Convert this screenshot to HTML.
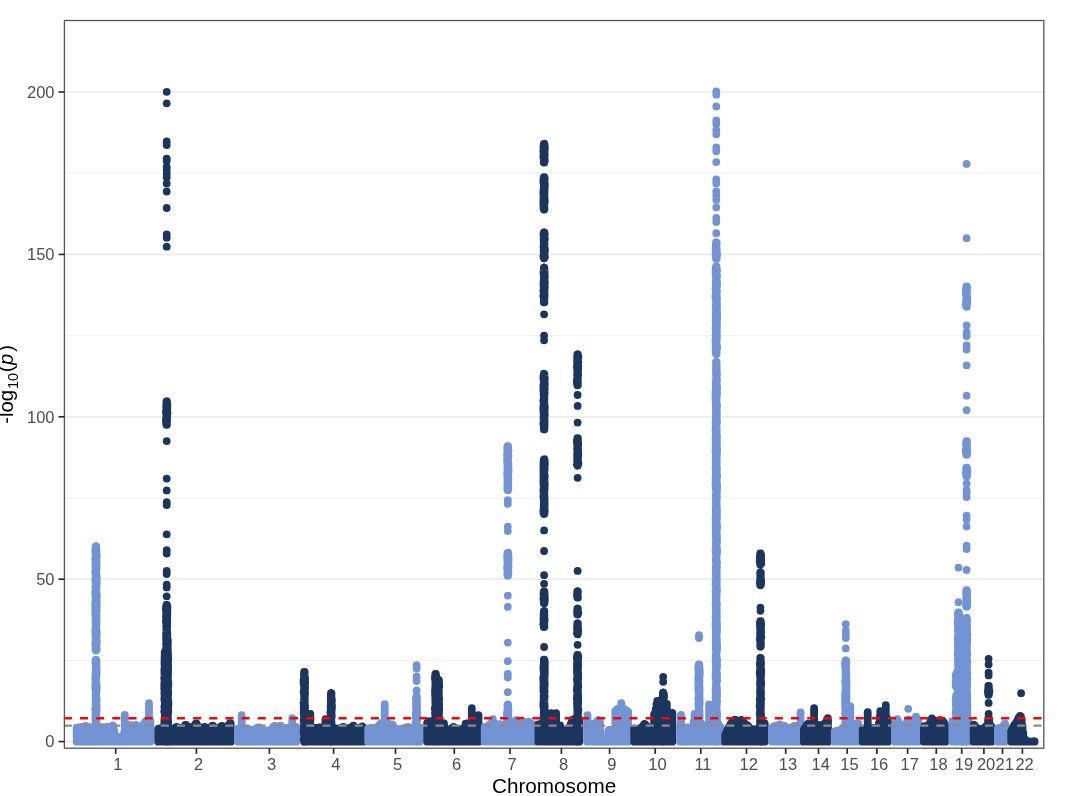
<!DOCTYPE html>
<html><head><meta charset="utf-8"><title>Manhattan plot</title>
<style>
html,body{margin:0;padding:0;background:#fff;}
body{width:1066px;height:796px;overflow:hidden;font-family:"Liberation Sans",sans-serif;}
svg{display:block;will-change:transform;}
text{font-family:"Liberation Sans",sans-serif;}
.tk{font-size:16.5px;fill:#4d4d4d;}
.ti{font-size:20.7px;fill:#000000;}
</style></head>
<body>
<svg width="1066" height="796" viewBox="0 0 1066 796">
<rect x="0" y="0" width="1066" height="796" fill="#ffffff"/>
<line x1="64.4" x2="1043.8" y1="660.4" y2="660.4" stroke="#ebebeb" stroke-width="0.8"/><line x1="64.4" x2="1043.8" y1="498.0" y2="498.0" stroke="#ebebeb" stroke-width="0.8"/><line x1="64.4" x2="1043.8" y1="335.6" y2="335.6" stroke="#ebebeb" stroke-width="0.8"/><line x1="64.4" x2="1043.8" y1="173.2" y2="173.2" stroke="#ebebeb" stroke-width="0.8"/><line x1="64.4" x2="1043.8" y1="741.6" y2="741.6" stroke="#ebebeb" stroke-width="1.7"/><line x1="64.4" x2="1043.8" y1="579.2" y2="579.2" stroke="#ebebeb" stroke-width="1.7"/><line x1="64.4" x2="1043.8" y1="416.8" y2="416.8" stroke="#ebebeb" stroke-width="1.7"/><line x1="64.4" x2="1043.8" y1="254.4" y2="254.4" stroke="#ebebeb" stroke-width="1.7"/><line x1="64.4" x2="1043.8" y1="92.0" y2="92.0" stroke="#ebebeb" stroke-width="1.7"/>
<path d="M76.7 727.7V741.7M77.5 727.6V741.7M78.3 727.4V741.7M79.1 727.3V741.7M79.9 727.3V741.7M80.7 727.2V741.7M81.5 727.2V741.7M82.3 727.2V741.7M83.1 727.2V741.7M83.9 726.9V741.7M84.7 726.2V741.7M85.5 726.0V741.7M86.3 726.4V741.7M87.1 726.7V741.7M87.9 726.9V741.7M88.7 727.0V741.7M89.5 727.1V741.7M90.3 727.2V741.7M91.1 727.4V741.7M91.9 727.4V741.7M92.7 727.4V741.7M93.5 727.4V741.7M94.3 727.4V741.7M95.1 727.4V741.7M95.9 727.2V741.7M96.7 727.2V741.7M97.5 727.1V741.7M98.3 726.9V741.7M99.1 726.9V741.7M99.9 726.9V741.7M100.7 727.0V741.7M101.5 727.1V741.7M102.3 727.2V741.7M103.1 727.5V741.7M103.9 727.7V741.7M104.7 727.6V741.7M105.5 727.3V741.7M106.3 726.9V741.7M107.1 726.9V741.7M107.9 727.0V741.7M108.7 727.1V741.7M109.5 727.1V741.7M110.3 727.4V741.7M111.1 727.0V741.7M111.9 726.2V741.7M112.7 725.5V741.7M113.6 726.2V741.7M114.4 731.4V741.7M115.2 737.3V741.7M116.0 737.2V741.7M116.8 737.1V741.7M117.6 737.1V741.7M118.4 737.2V741.7M119.2 737.2V741.7M120.0 737.3V741.7M120.8 737.6V741.7M121.6 737.8V741.7M122.4 737.7V741.7M123.2 737.4V741.7M124.0 732.9V741.7M124.8 725.2V741.7M125.6 725.2V741.7M126.4 725.2V741.7M127.2 725.2V741.7M128.0 725.2V741.7M128.8 725.3V741.7M129.6 725.3V741.7M130.4 725.3V741.7M131.2 725.4V741.7M132.0 725.5V741.7M132.8 725.4V741.7M133.6 725.3V741.7M134.4 725.2V741.7M135.2 725.1V741.7M136.0 724.9V741.7M136.8 725.3V741.7M137.6 726.6V741.7M138.4 728.1V741.7M139.2 728.4V741.7M140.0 728.3V741.7M140.8 728.1V741.7M141.6 728.0V741.7M142.4 726.7V741.7M143.2 725.3V741.7M144.0 723.8V741.7M144.8 722.3V741.7M145.6 721.5V741.7M146.4 721.4V741.7M147.2 721.3V741.7M148.0 721.3V741.7M148.8 721.4V741.7M149.6 721.2V741.7M150.4 720.9V741.7M124.8 715.0V741.7M149.0 703.2V741.7M96.00 546.4V650.4M95.73 546.4L95.60 548.4L95.28 551.3L95.76 554.2L95.48 556.7L95.23 559.1L95.73 562.0L95.49 564.7L95.46 567.3L95.57 569.2L95.28 571.9L95.60 574.3L95.82 576.7L95.38 578.9L95.50 581.6L95.86 584.6L95.42 587.1L95.70 589.7L95.24 592.4L95.30 594.6L95.61 596.6L95.73 598.4L95.68 601.0L95.29 603.4L95.21 606.0L95.40 608.7L95.30 611.7L95.26 614.6L95.60 616.9L95.71 619.8L95.52 622.2L95.72 624.4L95.74 626.7L95.47 628.9L95.27 631.9L95.63 634.2L95.53 636.3L95.66 639.0L95.52 641.6L95.28 643.9L95.89 645.9L95.54 647.7L95.46 650.0L95.73 650.4M96.27 546.4L96.25 548.3L96.38 551.2L96.34 553.5L96.69 555.6L96.54 558.4L96.35 561.0L96.64 562.9L96.43 565.3L96.48 567.7L96.30 570.2L96.21 573.1L96.51 575.1L96.72 577.9L96.61 580.8L96.79 583.2L96.43 585.2L96.39 587.8L96.25 590.0L96.39 591.9L96.74 594.1L96.80 596.5L96.41 599.0L96.65 600.9L96.73 603.5L96.76 606.0L96.37 607.9L96.73 610.3L96.30 612.5L96.30 614.5L96.61 617.0L96.13 619.2L96.60 621.3L96.38 623.9L96.22 626.1L96.20 628.2L96.51 630.4L96.73 633.0L96.71 635.8L96.15 638.3L96.79 640.9L96.67 642.9L96.60 645.1L96.18 647.5L96.73 649.4L96.27 650.4M96.00 660.0V741.7M95.73 660.0L95.36 662.9L95.80 665.6L95.79 668.1L95.72 670.0L95.83 671.8L95.50 674.0L95.43 676.2L95.33 679.0L95.72 681.1L95.37 683.5L95.32 685.9L95.36 688.7L95.79 691.2L95.73 694.0L95.69 695.8L95.72 698.0L95.69 700.7L95.65 702.9L95.73 704.8L95.83 706.9L95.21 709.2L95.86 711.3L95.55 714.1L95.42 717.1L95.50 719.6L95.77 722.6L95.74 724.7L95.61 727.4L95.86 729.8L95.69 732.8L95.61 734.8L95.87 736.7L95.69 739.3L95.73 741.7M96.27 660.0L96.58 662.0L96.46 664.4L96.23 666.9L96.63 669.1L96.63 671.6L96.63 673.9L96.22 676.8L96.17 679.0L96.18 681.7L96.49 684.3L96.60 686.7L96.69 688.7L96.30 691.7L96.13 694.0L96.22 696.9L96.66 699.5L96.59 701.5L96.12 703.6L96.72 705.9L96.31 708.3L96.62 710.9L96.29 713.6L96.12 715.5L96.14 717.5L96.59 720.1L96.32 722.0L96.60 724.8L96.56 727.8L96.55 729.8L96.64 731.8L96.63 733.6L96.70 736.2L96.51 738.8L96.46 741.2L96.27 741.7" fill="none" stroke="#7294D4" stroke-width="7.8" stroke-linecap="round" stroke-linejoin="round"/>
<g fill="#1C355E" stroke="none"><circle cx="166.7" cy="91.8" r="3.9"/><circle cx="166.7" cy="103.3" r="3.9"/><circle cx="166.7" cy="141.5" r="3.9"/><circle cx="166.7" cy="145.1" r="3.9"/><circle cx="166.7" cy="158.7" r="3.9"/><circle cx="166.7" cy="161.0" r="3.9"/><circle cx="166.7" cy="167.0" r="3.9"/><circle cx="166.7" cy="170.5" r="3.9"/><circle cx="166.7" cy="173.9" r="3.9"/><circle cx="166.7" cy="177.3" r="3.9"/><circle cx="166.7" cy="183.4" r="3.9"/><circle cx="166.7" cy="191.5" r="3.9"/><circle cx="166.7" cy="208.0" r="3.9"/><circle cx="166.7" cy="234.5" r="3.9"/><circle cx="166.7" cy="237.7" r="3.9"/><circle cx="166.7" cy="246.7" r="3.9"/><circle cx="166.7" cy="441.1" r="3.9"/><circle cx="166.7" cy="478.6" r="3.9"/><circle cx="166.7" cy="490.4" r="3.9"/><circle cx="166.7" cy="502.2" r="3.9"/><circle cx="166.7" cy="505.1" r="3.9"/><circle cx="166.7" cy="534.3" r="3.9"/><circle cx="166.7" cy="550.1" r="3.9"/><circle cx="166.7" cy="553.5" r="3.9"/><circle cx="166.7" cy="570.8" r="3.9"/><circle cx="166.7" cy="574.0" r="3.9"/><circle cx="166.7" cy="584.6" r="3.9"/><circle cx="166.7" cy="587.4" r="3.9"/><circle cx="166.7" cy="596.3" r="3.9"/></g>
<path d="M158.2 728.9V741.7M159.0 728.7V741.7M159.8 728.4V741.7M160.6 728.3V741.7M161.4 728.3V741.7M162.2 728.6V741.7M163.0 728.7V741.7M163.8 728.8V741.7M164.6 728.9V741.7M165.4 728.9V741.7M166.2 728.9V741.7M167.0 728.9V741.7M167.8 728.9V741.7M168.6 728.9V741.7M169.4 728.8V741.7M170.2 728.6V741.7M170.9 728.6V741.7M171.7 728.6V741.7M172.5 728.6V741.7M173.3 728.6V741.7M174.1 728.5V741.7M174.9 727.9V741.7M175.7 727.3V741.7M176.5 726.9V741.7M177.3 727.1V741.7M178.1 727.7V741.7M178.9 728.1V741.7M179.7 728.2V741.7M180.5 728.1V741.7M181.3 728.1V741.7M182.1 728.3V741.7M182.9 728.5V741.7M183.7 727.4V741.7M184.5 726.1V741.7M185.3 724.9V741.7M186.1 725.0V741.7M186.9 725.8V741.7M187.7 726.7V741.7M188.5 727.7V741.7M189.3 727.6V741.7M190.1 727.6V741.7M190.9 727.5V741.7M191.7 727.5V741.7M192.5 727.6V741.7M193.3 727.3V741.7M194.1 726.1V741.7M194.8 724.8V741.7M195.6 723.6V741.7M196.4 723.3V741.7M197.2 724.9V741.7M198.0 726.3V741.7M198.8 727.6V741.7M199.6 728.1V741.7M200.4 728.5V741.7M201.2 728.8V741.7M202.0 728.6V741.7M202.8 728.0V741.7M203.6 727.5V741.7M204.4 726.9V741.7M205.2 727.1V741.7M206.0 727.5V741.7M206.8 728.0V741.7M207.6 728.0V741.7M208.4 728.0V741.7M209.2 728.0V741.7M210.0 728.0V741.7M210.8 727.3V741.7M211.6 726.5V741.7M212.4 725.7V741.7M213.2 726.0V741.7M214.0 726.8V741.7M214.8 727.7V741.7M215.6 728.5V741.7M216.4 728.5V741.7M217.2 728.5V741.7M218.0 728.5V741.7M218.7 728.4V741.7M219.5 727.9V741.7M220.3 727.2V741.7M221.1 726.5V741.7M221.9 726.0V741.7M222.7 726.6V741.7M223.5 727.1V741.7M224.3 727.6V741.7M225.1 727.9V741.7M225.9 727.5V741.7M226.7 726.9V741.7M227.5 726.3V741.7M228.3 725.4V741.7M229.1 724.3V741.7M229.9 723.2V741.7M230.7 723.4V741.7M166.70 401.5V424.8M166.43 401.5L166.40 404.2L166.23 407.2L166.32 409.6L165.94 412.4L166.47 414.3L166.33 416.9L165.98 418.9L165.97 421.4L166.16 423.2L166.43 424.8M166.97 401.5L167.35 404.2L167.31 407.1L166.96 409.2L167.17 411.3L167.41 413.5L167.06 415.7L167.00 418.2L167.02 420.4L166.80 423.1L166.97 424.8M166.70 605.0V741.7M166.43 605.0L166.02 607.1L165.94 610.0L166.23 611.9L166.26 614.3L165.96 617.0L166.36 619.6L165.90 621.4L166.41 623.6L166.27 626.0L166.44 628.9L166.29 631.8L166.13 633.6L166.23 636.4L166.05 639.2L166.39 642.1L166.09 644.2L166.51 646.2L166.12 649.0L165.92 651.5L166.23 654.1L166.54 656.0L166.46 658.6L165.96 661.3L166.35 663.8L166.27 666.3L165.97 669.0L166.27 671.2L166.09 673.6L166.37 676.4L166.45 679.1L166.49 681.2L166.23 684.1L166.44 686.2L165.93 688.5L166.40 691.0L166.00 693.8L166.58 696.3L166.48 698.9L166.45 701.7L166.50 703.8L166.23 706.7L166.17 708.5L166.52 711.3L166.03 713.8L166.49 715.7L166.38 718.3L166.20 720.5L166.50 722.8L166.25 725.1L165.95 727.1L166.01 728.9L166.05 731.1L166.51 733.0L166.39 734.9L166.55 737.4L166.39 739.4L166.43 741.7M166.97 605.0L167.48 607.6L167.24 610.1L167.33 612.6L167.27 614.9L167.05 617.6L167.26 620.0L167.07 622.2L167.18 624.6L167.10 627.3L166.85 629.5L167.15 631.8L167.33 633.6L167.26 636.5L167.09 638.5L166.85 641.1L167.13 644.0L167.39 646.1L167.37 648.3L167.32 650.9L167.03 653.3L166.98 655.6L166.99 657.4L166.94 660.1L167.23 662.1L166.82 664.6L166.91 667.0L167.09 668.8L167.16 670.7L167.01 673.2L167.31 675.4L166.80 678.2L167.34 681.0L166.94 682.9L167.08 685.7L167.36 687.8L167.04 690.1L166.83 692.5L167.25 694.9L167.04 697.9L167.00 700.7L167.22 703.5L167.41 705.8L166.92 707.9L167.48 710.3L166.96 712.9L166.94 715.5L167.04 717.5L166.96 720.4L166.81 722.6L167.50 725.3L167.35 727.8L167.16 730.0L167.47 732.5L167.38 735.5L167.13 738.4L167.49 741.2L166.97 741.7M165.00 652.0V741.7M164.73 652.0L164.70 654.8L164.67 657.0L164.54 659.1L164.60 661.1L164.46 664.0L164.79 666.2L164.51 668.4L164.36 670.9L164.51 673.8L164.43 675.9L164.27 678.3L164.64 681.3L164.31 683.5L164.34 686.3L164.29 688.9L164.65 691.1L164.37 693.5L164.68 695.8L164.42 697.7L164.32 699.6L164.88 701.6L164.79 704.4L164.41 706.8L164.88 709.6L164.24 711.4L164.87 713.8L164.80 715.8L164.78 717.9L164.52 720.8L164.24 723.1L164.55 725.2L164.49 727.7L164.80 730.2L164.71 732.8L164.62 735.3L164.60 737.9L164.84 739.8L164.73 741.7M165.27 652.0L165.25 654.5L165.49 657.5L165.64 659.8L165.71 661.9L165.47 664.3L165.16 666.9L165.37 669.6L165.66 672.4L165.29 675.3L165.64 677.9L165.54 680.4L165.18 682.3L165.77 684.3L165.65 686.6L165.67 689.3L165.74 691.4L165.52 693.8L165.19 695.9L165.61 698.4L165.63 701.3L165.56 703.4L165.46 705.3L165.10 708.2L165.13 710.1L165.72 712.4L165.52 714.5L165.36 716.3L165.42 718.4L165.68 720.6L165.63 722.5L165.77 724.4L165.61 727.2L165.10 729.5L165.76 731.5L165.71 733.8L165.29 736.0L165.68 737.8L165.19 739.8L165.27 741.7M167.60 640.0V741.7M167.33 640.0L167.40 642.9L167.24 645.3L167.01 648.2L166.89 650.8L167.37 652.6L167.23 655.6L166.99 658.4L166.98 660.6L167.30 662.9L167.09 665.7L167.02 668.2L166.94 670.9L166.83 673.5L167.40 675.5L166.98 678.0L167.10 680.1L166.97 682.2L167.06 684.2L167.12 686.5L167.10 688.5L167.32 690.9L167.29 693.7L167.05 695.9L166.82 698.3L166.87 701.2L167.24 704.1L167.43 707.1L166.90 709.5L166.84 712.0L166.83 714.7L166.90 717.5L166.87 719.7L167.02 722.4L167.35 725.3L167.28 727.2L167.27 729.3L167.09 731.4L167.43 734.3L167.42 737.2L167.00 739.7L167.33 741.7M167.87 640.0L167.84 642.6L167.72 645.2L167.70 647.3L167.82 650.2L167.87 653.2L168.16 655.5L168.08 657.7L168.18 660.3L167.76 662.8L168.11 665.6L168.12 667.9L168.01 670.4L167.97 672.6L168.06 674.6L167.88 676.5L167.83 678.6L167.97 681.1L168.39 683.1L168.21 685.8L167.81 688.2L167.99 690.6L168.20 692.9L168.01 694.9L167.83 697.5L168.20 700.4L168.38 702.7L168.34 705.5L168.12 708.2L168.18 711.2L168.02 713.9L167.81 716.5L167.72 718.4L168.04 720.6L168.13 723.3L167.80 725.8L168.25 728.3L167.73 730.4L168.23 732.7L168.08 735.2L168.01 737.0L168.27 740.0L167.87 741.7" fill="none" stroke="#1C355E" stroke-width="7.8" stroke-linecap="round" stroke-linejoin="round"/>
<path d="M238.1 728.6V741.7M238.9 728.4V741.7M239.7 728.1V741.7M240.5 727.9V741.7M241.3 728.1V741.7M242.1 728.3V741.7M242.9 728.6V741.7M243.7 728.7V741.7M244.5 728.7V741.7M245.3 728.8V741.7M246.1 728.9V741.7M246.9 729.3V741.7M247.7 729.7V741.7M248.5 729.9V741.7M249.3 729.8V741.7M250.1 729.7V741.7M250.9 729.8V741.7M251.7 730.0V741.7M252.5 730.0V741.7M253.2 729.7V741.7M254.0 729.5V741.7M254.8 729.3V741.7M255.6 729.1V741.7M256.4 728.6V741.7M257.2 727.9V741.7M258.0 727.3V741.7M258.8 727.4V741.7M259.6 728.4V741.7M260.4 729.3V741.7M261.2 729.9V741.7M262.0 730.1V741.7M262.8 730.3V741.7M263.6 730.5V741.7M264.4 730.6V741.7M265.2 730.8V741.7M266.0 730.9V741.7M266.8 730.7V741.7M267.6 730.6V741.7M268.4 730.7V741.7M269.2 731.0V741.7M270.0 730.6V741.7M270.8 730.0V741.7M271.6 729.1V741.7M272.4 728.1V741.7M273.2 727.0V741.7M274.0 726.1V741.7M274.8 726.0V741.7M275.6 726.5V741.7M276.4 726.9V741.7M277.2 727.4V741.7M278.0 727.0V741.7M278.8 726.6V741.7M279.6 726.1V741.7M280.4 725.7V741.7M281.2 726.4V741.7M281.9 727.3V741.7M282.7 728.1V741.7M283.5 728.3V741.7M284.3 728.1V741.7M285.1 727.9V741.7M285.9 727.8V741.7M286.7 727.8V741.7M287.5 727.8V741.7M288.3 727.7V741.7M289.1 727.7V741.7M289.9 727.8V741.7M290.7 727.9V741.7M291.5 727.6V741.7M292.3 727.2V741.7M293.1 727.0V741.7M293.9 727.0V741.7M294.7 726.9V741.7M295.5 726.9V741.7M296.3 726.9V741.7M241.7 715.1V741.7M292.3 718.1V741.7" fill="none" stroke="#7294D4" stroke-width="7.8" stroke-linecap="round" stroke-linejoin="round"/>
<path d="M304.1 726.7V741.7M304.9 726.9V741.7M305.7 727.1V741.7M306.5 727.3V741.7M307.3 727.3V741.7M308.1 727.1V741.7M308.9 727.0V741.7M309.7 727.1V741.7M310.5 727.6V741.7M311.3 728.0V741.7M312.1 728.1V741.7M312.9 728.1V741.7M313.7 728.0V741.7M314.4 727.9V741.7M315.2 727.9V741.7M316.0 727.9V741.7M316.8 728.0V741.7M317.6 727.8V741.7M318.4 727.6V741.7M319.2 727.6V741.7M320.0 727.6V741.7M320.8 727.6V741.7M321.6 727.6V741.7M322.4 727.6V741.7M323.2 727.5V741.7M324.0 727.3V741.7M324.8 727.1V741.7M325.6 726.9V741.7M326.4 726.8V741.7M327.2 726.6V741.7M328.0 726.7V741.7M328.8 726.7V741.7M329.6 726.9V741.7M330.4 727.3V741.7M331.2 727.7V741.7M332.0 727.9V741.7M332.8 727.9V741.7M333.6 727.9V741.7M334.3 727.9V741.7M335.1 728.1V741.7M335.9 728.4V741.7M336.7 728.6V741.7M337.5 728.7V741.7M338.3 728.7V741.7M339.1 728.7V741.7M339.9 728.5V741.7M340.7 728.1V741.7M341.5 727.7V741.7M342.3 727.3V741.7M343.1 726.9V741.7M343.9 727.2V741.7M344.7 727.7V741.7M345.5 728.3V741.7M346.3 728.7V741.7M347.1 728.6V741.7M347.9 728.3V741.7M348.7 728.1V741.7M349.5 728.0V741.7M350.3 728.0V741.7M351.1 727.7V741.7M351.9 727.2V741.7M352.7 726.4V741.7M353.4 725.7V741.7M354.2 726.4V741.7M355.0 727.2V741.7M355.8 727.9V741.7M356.6 728.5V741.7M357.4 728.6V741.7M358.2 728.7V741.7M359.0 728.8V741.7M359.8 728.2V741.7M360.6 727.5V741.7M361.4 726.8V741.7M362.2 726.5V741.7M363.0 727.1V741.7M310.3 713.9V741.7M325.4 719.2V741.7M304.40 672.0V741.7M304.13 672.0L303.90 674.3L304.18 676.8L303.63 679.7L303.62 682.0L303.67 683.9L304.05 686.1L304.28 688.1L303.85 690.6L303.72 693.2L304.27 695.5L304.14 698.1L303.94 700.6L303.61 703.4L303.91 706.1L303.73 708.3L303.84 711.1L303.66 713.3L304.29 715.6L303.94 718.0L303.61 720.4L304.14 723.0L303.98 725.9L303.90 728.1L303.66 730.3L303.67 732.6L304.02 735.2L304.16 737.2L303.67 739.7L304.13 741.7M304.67 672.0L304.57 673.9L304.50 675.7L305.03 678.1L305.05 680.9L305.08 682.9L304.82 685.7L305.12 687.8L304.63 690.2L305.08 692.8L304.84 695.8L304.53 697.7L304.78 699.7L304.76 702.0L304.81 704.2L305.09 706.8L304.91 708.9L304.82 711.8L305.13 714.7L305.11 717.4L305.14 719.2L305.07 721.9L304.63 724.1L305.08 725.9L304.76 728.9L305.01 730.8L304.54 732.7L305.04 735.2L304.71 737.5L305.12 739.6L304.67 741.7M331.20 693.1V741.7M330.93 693.1L330.92 696.0L330.81 698.7L330.98 700.6L330.80 702.8L330.91 704.6L330.60 707.4L330.93 710.0L330.41 712.4L330.91 714.7L331.09 717.4L330.85 719.6L330.48 722.3L330.41 724.8L330.41 727.2L330.95 729.2L331.04 731.3L330.84 733.4L330.62 735.9L330.86 738.7L330.76 741.2L330.93 741.7M331.47 693.1L331.31 695.6L331.50 698.0L331.86 699.8L331.79 701.6L331.48 703.5L331.96 705.6L331.89 707.5L331.84 709.4L331.36 712.3L331.64 714.5L331.71 716.6L331.34 718.5L331.31 720.3L331.49 722.8L331.48 724.7L331.92 727.2L331.66 730.2L331.85 732.9L331.99 734.9L331.72 736.9L331.67 739.4L331.47 741.7" fill="none" stroke="#1C355E" stroke-width="7.8" stroke-linecap="round" stroke-linejoin="round"/>
<g fill="#7294D4" stroke="none"><circle cx="416.6" cy="665.2" r="3.9"/><circle cx="416.6" cy="668.6" r="3.9"/><circle cx="416.6" cy="676.4" r="3.9"/><circle cx="416.6" cy="681.0" r="3.9"/><circle cx="416.6" cy="690.4" r="3.9"/></g>
<path d="M368.2 728.3V741.7M369.0 728.2V741.7M369.8 728.1V741.7M370.6 728.0V741.7M371.4 728.1V741.7M372.2 728.5V741.7M373.0 728.7V741.7M373.8 728.6V741.7M374.6 728.5V741.7M375.4 728.4V741.7M376.2 728.3V741.7M376.9 728.3V741.7M377.7 727.1V741.7M378.5 725.9V741.7M379.3 724.8V741.7M380.1 723.8V741.7M380.9 723.3V741.7M381.7 722.8V741.7M382.5 722.8V741.7M383.3 723.0V741.7M384.1 723.1V741.7M384.9 723.2V741.7M385.7 723.3V741.7M386.5 723.3V741.7M387.3 723.2V741.7M388.1 723.4V741.7M388.9 724.0V741.7M389.7 724.9V741.7M390.5 725.3V741.7M391.3 725.0V741.7M392.1 724.5V741.7M392.9 725.1V741.7M393.7 726.5V741.7M394.4 727.9V741.7M395.2 728.7V741.7M396.0 729.3V741.7M396.8 729.4V741.7M397.6 729.4V741.7M398.4 729.4V741.7M399.2 729.5V741.7M400.0 729.6V741.7M400.8 729.4V741.7M401.6 728.9V741.7M402.4 728.4V741.7M403.2 728.4V741.7M404.0 728.2V741.7M404.8 728.0V741.7M405.6 727.8V741.7M406.4 727.6V741.7M407.2 727.2V741.7M408.0 726.8V741.7M408.8 727.2V741.7M409.6 727.8V741.7M410.4 728.1V741.7M411.2 728.1V741.7M411.9 728.2V741.7M412.7 728.3V741.7M413.5 728.2V741.7M414.3 727.8V741.7M415.1 727.4V741.7M415.9 727.3V741.7M416.7 727.5V741.7M417.5 727.8V741.7M418.3 727.9V741.7M419.1 727.7V741.7M419.9 727.3V741.7M384.7 704.2V741.7M416.60 696.5V741.7M416.33 696.5L415.84 698.3L416.32 700.8L416.02 703.1L416.11 705.5L415.99 708.5L416.49 710.8L415.82 713.7L415.86 716.6L416.20 719.5L415.84 722.2L415.95 724.6L415.85 727.3L416.42 729.5L416.13 732.3L416.13 734.4L416.04 736.5L416.02 739.5L416.33 741.7M416.87 696.5L416.92 699.4L416.85 702.1L416.77 704.7L417.03 707.4L416.73 710.2L417.10 712.0L416.85 714.8L417.28 716.6L417.17 718.7L416.92 721.0L416.72 723.2L416.80 725.5L416.99 728.4L416.89 730.7L417.26 733.6L416.76 736.1L417.18 738.1L417.26 741.0L416.87 741.7" fill="none" stroke="#7294D4" stroke-width="7.8" stroke-linecap="round" stroke-linejoin="round"/>
<path d="M427.2 722.8V741.7M428.0 722.2V741.7M428.8 721.5V741.7M429.6 721.3V741.7M430.4 721.4V741.7M431.2 721.7V741.7M432.0 721.9V741.7M432.8 722.0V741.7M433.6 722.2V741.7M434.4 722.4V741.7M435.2 722.4V741.7M436.0 722.3V741.7M436.8 722.1V741.7M437.6 722.2V741.7M438.4 722.5V741.7M439.2 722.9V741.7M440.0 723.0V741.7M440.8 723.0V741.7M441.6 722.9V741.7M442.4 723.0V741.7M443.2 723.2V741.7M444.0 723.3V741.7M444.8 727.2V741.7M445.6 729.2V741.7M446.4 729.3V741.7M447.2 729.4V741.7M448.0 729.6V741.7M448.8 729.8V741.7M449.6 729.8V741.7M450.4 729.4V741.7M451.2 728.9V741.7M452.0 728.1V741.7M452.8 727.4V741.7M453.6 726.8V741.7M454.4 727.4V741.7M455.2 728.2V741.7M456.0 728.9V741.7M456.8 729.0V741.7M457.6 729.2V741.7M458.4 729.3V741.7M459.2 729.4V741.7M460.0 729.3V741.7M460.8 729.4V741.7M461.6 729.5V741.7M462.4 729.5V741.7M463.2 729.4V741.7M464.0 729.3V741.7M464.8 729.3V741.7M465.6 723.6V741.7M466.4 723.6V741.7M467.2 723.7V741.7M468.0 723.8V741.7M468.8 723.8V741.7M469.6 723.7V741.7M470.4 723.5V741.7M471.2 723.3V741.7M472.0 723.1V741.7M472.8 722.8V741.7M473.6 722.3V741.7M474.4 721.8V741.7M475.2 721.5V741.7M476.0 720.9V741.7M476.8 720.2V741.7M477.6 719.3V741.7M478.4 718.2V741.7M471.8 708.2V741.7M478.5 715.1V741.7M435.60 673.9V741.7M435.33 673.9L435.13 675.9L434.95 678.2L435.38 681.1L435.43 684.0L435.36 686.8L435.21 689.2L435.01 691.0L435.09 693.2L435.10 695.3L435.29 697.7L435.39 700.7L435.39 702.9L435.45 705.8L434.81 708.6L435.38 711.3L434.97 713.2L435.45 715.6L435.10 718.2L434.97 720.5L435.44 723.0L435.06 725.2L435.44 727.8L435.45 729.7L435.29 732.3L435.23 735.1L435.24 737.2L434.97 739.5L435.33 741.7M435.87 673.9L436.17 676.5L436.09 678.9L436.31 681.8L435.99 684.2L435.98 686.9L436.39 689.6L435.84 691.7L435.82 694.4L436.01 697.2L435.86 699.7L436.02 701.7L436.27 703.7L435.75 706.1L436.40 709.0L436.39 711.6L436.28 713.8L436.16 716.5L435.96 718.8L435.88 721.8L436.14 724.3L436.21 727.2L436.17 729.7L436.29 732.6L436.04 735.2L436.06 738.0L435.74 740.3L435.87 741.7M438.60 680.0V741.7M438.33 680.0L437.96 681.8L437.92 684.3L438.45 687.0L437.85 689.8L438.40 691.7L437.94 693.7L437.90 696.2L438.20 699.2L438.26 701.9L438.27 704.2L438.08 706.8L438.13 709.8L438.49 712.0L437.90 714.3L438.28 716.8L438.26 719.6L438.34 721.6L438.06 723.5L438.32 726.3L438.34 729.2L438.44 731.9L438.22 734.1L438.41 736.2L438.11 738.6L438.42 740.5L438.33 741.7M438.87 680.0L439.05 682.9L439.19 684.9L439.17 686.9L438.84 688.8L438.74 691.4L438.77 694.1L438.79 696.2L439.29 699.2L438.80 702.1L439.20 705.0L438.89 706.8L439.23 709.1L439.02 712.1L438.81 714.9L438.91 717.1L439.06 719.4L438.90 721.4L438.78 723.6L439.00 726.3L439.32 729.0L438.92 731.7L439.18 733.9L439.18 736.0L439.23 737.9L439.03 739.7L438.87 741.7" fill="none" stroke="#1C355E" stroke-width="7.8" stroke-linecap="round" stroke-linejoin="round"/>
<g fill="#7294D4" stroke="none"><circle cx="507.8" cy="500.1" r="3.9"/><circle cx="507.8" cy="503.9" r="3.9"/><circle cx="507.8" cy="526.6" r="3.9"/><circle cx="507.8" cy="531.1" r="3.9"/><circle cx="507.8" cy="595.6" r="3.9"/><circle cx="507.8" cy="606.9" r="3.9"/><circle cx="507.8" cy="642.6" r="3.9"/><circle cx="507.8" cy="661.2" r="3.9"/><circle cx="507.8" cy="673.8" r="3.9"/><circle cx="507.8" cy="677.5" r="3.9"/><circle cx="507.8" cy="692.2" r="3.9"/></g>
<path d="M484.7 726.9V741.7M485.5 726.9V741.7M486.3 726.8V741.7M487.1 726.7V741.7M487.9 726.1V741.7M488.7 725.4V741.7M489.5 724.7V741.7M490.3 723.9V741.7M491.2 723.3V741.7M492.0 722.7V741.7M492.8 721.8V741.7M493.6 722.4V741.7M494.4 723.1V741.7M495.2 723.9V741.7M496.0 724.6V741.7M496.8 724.7V741.7M497.6 724.6V741.7M498.4 724.5V741.7M499.2 724.4V741.7M500.0 724.4V741.7M500.8 724.5V741.7M501.6 724.7V741.7M502.4 724.7V741.7M503.3 724.7V741.7M504.1 724.7V741.7M504.9 724.6V741.7M505.7 724.6V741.7M506.5 724.5V741.7M507.3 724.5V741.7M508.1 724.4V741.7M508.9 724.1V741.7M509.7 724.0V741.7M510.5 724.1V741.7M511.3 724.3V741.7M512.1 724.2V741.7M512.9 723.5V741.7M513.7 722.9V741.7M514.5 722.2V741.7M515.3 721.2V741.7M516.2 720.2V741.7M517.0 721.0V741.7M517.8 721.9V741.7M518.6 722.8V741.7M519.4 723.3V741.7M520.2 723.4V741.7M521.0 723.5V741.7M521.8 723.7V741.7M522.6 723.7V741.7M523.4 723.6V741.7M524.2 723.2V741.7M525.0 722.9V741.7M525.8 722.7V741.7M526.6 722.4V741.7M527.4 722.0V741.7M528.3 721.7V741.7M529.1 721.8V741.7M529.9 722.7V741.7M530.7 723.3V741.7M531.5 723.9V741.7M532.3 724.0V741.7M533.1 724.2V741.7M533.9 724.3V741.7M492.8 719.2V741.7M507.80 446.2V490.1M507.53 446.2L507.30 448.5L507.51 451.0L507.30 452.9L507.02 454.8L507.46 456.7L507.35 458.7L507.05 461.2L507.38 463.5L507.60 465.6L507.46 468.2L507.58 470.6L507.16 473.5L507.49 476.4L507.52 479.4L507.56 481.9L507.59 484.3L507.33 487.1L507.55 489.7L507.53 490.1M508.07 446.2L508.11 448.3L508.40 451.2L508.06 453.4L508.41 456.2L507.94 459.2L507.92 461.5L508.46 464.1L508.16 466.6L508.48 469.3L508.49 472.0L507.99 474.5L508.19 476.7L508.40 479.0L508.07 480.9L508.23 483.6L508.04 485.9L508.37 488.0L508.07 490.1M507.80 552.8V575.7M507.53 552.8L507.53 554.9L507.13 556.8L507.37 559.4L507.45 561.5L507.66 563.9L507.37 565.8L507.10 568.2L507.65 570.9L507.31 573.5L507.53 575.7M508.07 552.8L508.37 554.6L508.43 556.9L508.55 559.8L508.33 561.7L508.29 564.3L508.53 566.7L508.10 569.4L508.44 571.4L508.20 574.1L508.07 575.7M507.80 704.7V741.7M507.53 704.7L507.54 707.2L507.60 709.8L507.01 712.7L507.00 714.7L507.10 717.3L507.36 719.5L507.14 721.6L507.13 724.3L507.01 727.1L507.55 729.0L507.63 731.2L507.18 733.5L507.41 735.8L507.50 737.7L507.44 740.4L507.53 741.7M508.07 704.7L508.10 707.5L508.45 709.9L508.25 711.7L508.09 713.8L508.28 716.5L508.48 718.7L507.96 721.1L508.05 723.4L508.13 725.8L508.02 728.4L508.08 730.6L508.06 732.6L508.35 734.4L508.21 737.0L508.06 739.0L508.06 741.2L508.07 741.7" fill="none" stroke="#7294D4" stroke-width="7.8" stroke-linecap="round" stroke-linejoin="round"/>
<g fill="#1C355E" stroke="none"><circle cx="544.1" cy="314.3" r="3.9"/><circle cx="544.1" cy="335.7" r="3.9"/><circle cx="544.1" cy="340.3" r="3.9"/><circle cx="544.1" cy="530.4" r="3.9"/><circle cx="544.1" cy="551.0" r="3.9"/><circle cx="544.1" cy="575.2" r="3.9"/><circle cx="544.1" cy="583.8" r="3.9"/><circle cx="544.1" cy="647.0" r="3.9"/><circle cx="577.6" cy="395.0" r="3.9"/><circle cx="577.6" cy="405.9" r="3.9"/><circle cx="577.6" cy="422.6" r="3.9"/><circle cx="577.6" cy="477.8" r="3.9"/><circle cx="577.6" cy="570.9" r="3.9"/><circle cx="577.6" cy="644.8" r="3.9"/></g>
<path d="M538.4 724.4V741.7M539.2 724.5V741.7M540.0 724.7V741.7M540.8 724.8V741.7M541.6 724.6V741.7M542.4 724.5V741.7M543.2 724.3V741.7M544.0 724.3V741.7M544.8 724.3V741.7M545.6 724.3V741.7M546.4 722.5V741.7M547.2 719.3V741.7M548.0 716.3V741.7M548.9 715.5V741.7M549.7 714.5V741.7M550.5 713.6V741.7M551.3 713.1V741.7M552.1 713.5V741.7M552.9 713.8V741.7M553.7 714.0V741.7M554.5 713.9V741.7M555.3 713.5V741.7M556.1 713.1V741.7M556.9 724.8V741.7M557.7 725.2V741.7M558.5 725.2V741.7M559.3 725.3V741.7M560.1 725.5V741.7M560.9 730.3V741.7M561.7 730.3V741.7M562.5 730.3V741.7M563.3 730.3V741.7M564.1 730.3V741.7M564.9 730.1V741.7M565.7 730.0V741.7M566.5 730.0V741.7M567.3 730.1V741.7M568.1 730.2V741.7M568.9 728.9V741.7M569.8 726.5V741.7M570.6 724.3V741.7M571.4 722.4V741.7M572.2 720.7V741.7M573.0 719.5V741.7M573.8 719.6V741.7M574.6 719.7V741.7M575.4 719.8V741.7M576.2 719.9V741.7M577.0 719.8V741.7M577.8 719.6V741.7M578.6 719.6V741.7M579.4 719.7V741.7M544.10 143.8V162.6M543.83 143.8L543.54 146.8L543.61 149.1L543.37 151.3L543.70 154.1L543.33 156.6L543.89 159.2L543.89 161.4L543.83 162.6M544.37 143.8L544.72 146.2L544.79 148.9L544.41 151.6L544.69 154.0L544.45 156.8L544.57 158.7L544.72 160.7L544.37 162.6M544.10 177.1V209.6M543.83 177.1L543.46 179.6L543.41 182.0L543.76 184.6L543.96 187.3L543.54 190.1L543.31 192.6L543.44 194.5L543.75 196.5L543.41 199.4L543.42 201.9L543.36 204.6L543.61 206.5L543.54 208.4L543.83 209.6M544.37 177.1L544.73 179.1L544.29 181.6L544.75 183.5L544.76 186.3L544.61 189.1L544.46 191.4L544.44 193.7L544.37 196.1L544.57 198.8L544.73 201.7L544.27 204.3L544.34 206.9L544.42 209.4L544.37 209.6M544.10 232.5V258.3M543.83 232.5L543.42 234.4L543.79 236.6L543.69 238.8L543.74 241.7L543.91 244.6L543.51 246.7L543.87 248.5L543.65 250.6L543.88 253.5L543.36 256.0L543.83 258.3M544.37 232.5L544.73 234.5L544.26 236.4L544.83 239.1L544.20 241.8L544.50 243.9L544.31 246.6L544.89 249.0L544.81 251.7L544.26 254.4L544.87 257.0L544.37 258.3M544.10 267.6V302.4M543.83 267.6L543.75 270.2L543.56 273.1L543.88 275.4L543.84 278.0L543.87 280.0L543.60 282.1L543.63 284.1L543.52 286.1L543.95 288.4L543.39 290.5L543.92 293.0L543.31 295.9L543.96 298.2L543.86 300.9L543.83 302.4M544.37 267.6L544.46 270.2L544.68 272.9L544.65 275.1L544.74 277.4L544.41 279.7L544.79 282.1L544.59 285.0L544.79 287.3L544.58 289.3L544.29 291.1L544.47 293.3L544.62 296.0L544.29 298.6L544.22 300.7L544.37 302.4M544.10 373.8V429.4M543.83 373.8L543.47 376.3L543.42 378.3L543.84 380.5L543.97 382.6L543.33 385.5L543.57 388.2L543.45 390.8L543.75 392.9L543.66 395.2L543.87 398.1L543.35 400.6L543.92 403.1L543.55 405.2L543.34 407.9L543.32 410.1L543.72 412.9L543.68 415.5L543.57 418.1L543.81 420.7L543.35 423.6L543.71 425.9L543.97 428.1L543.83 429.4M544.37 373.8L544.46 375.8L544.74 377.9L544.51 380.8L544.67 382.6L544.82 384.4L544.40 386.9L544.69 388.7L544.29 390.8L544.72 393.0L544.28 395.3L544.38 398.0L544.22 399.9L544.31 402.2L544.37 405.0L544.78 407.1L544.58 409.1L544.49 411.2L544.65 413.3L544.70 415.2L544.38 417.6L544.61 420.5L544.50 422.7L544.51 425.7L544.47 428.6L544.37 429.4M544.10 459.3V513.9M543.83 459.3L543.59 461.6L543.52 464.4L543.56 467.2L543.39 469.5L543.59 472.3L543.57 475.2L543.60 477.1L543.52 480.1L543.38 482.5L543.60 484.9L543.84 487.9L543.34 489.9L543.70 492.4L543.53 494.8L543.48 497.5L543.81 499.7L543.85 502.4L543.73 505.4L543.79 508.2L543.36 510.7L543.66 513.6L543.83 513.9M544.37 459.3L544.82 462.0L544.81 464.6L544.37 467.5L544.62 469.5L544.21 471.5L544.25 473.4L544.72 475.9L544.54 478.2L544.26 480.1L544.59 482.4L544.77 484.2L544.55 487.2L544.59 489.1L544.35 491.0L544.32 493.6L544.36 496.3L544.63 499.2L544.40 501.2L544.70 503.9L544.52 506.5L544.40 509.0L544.80 510.9L544.33 513.3L544.37 513.9M544.10 591.3V603.3M543.83 591.3L543.53 594.2L543.94 596.6L543.38 598.8L543.97 601.6L543.83 603.3M544.37 591.3L544.59 594.2L544.71 596.3L544.75 599.0L544.80 601.0L544.37 603.3M544.10 611.2V627.0M543.83 611.2L543.66 614.0L543.70 616.9L543.46 619.8L543.68 622.0L543.30 624.6L543.99 627.0L543.83 627.0M544.37 611.2L544.24 613.4L544.38 616.0L544.40 618.6L544.65 620.4L544.22 622.8L544.26 625.5L544.37 627.0M544.10 659.6V741.7M543.83 659.6L543.87 661.9L543.89 664.1L543.44 666.6L543.48 669.2L543.76 672.0L543.82 674.8L543.30 677.5L543.33 679.5L543.53 682.0L543.72 683.9L543.36 686.8L543.52 689.2L543.43 691.2L544.00 694.0L543.56 696.3L543.83 699.2L543.50 702.0L543.40 704.2L543.34 706.3L543.85 709.1L543.95 711.3L543.71 714.0L543.74 716.8L543.59 719.2L543.36 721.5L543.50 724.0L543.95 726.0L543.45 728.7L543.85 730.9L543.96 733.2L543.87 735.8L543.52 737.9L543.88 740.5L543.83 741.7M544.37 659.6L544.82 661.9L544.71 664.2L544.68 666.7L544.70 669.0L544.78 670.8L544.70 673.6L544.63 676.4L544.36 679.2L544.41 681.3L544.71 683.5L544.57 686.4L544.28 689.0L544.63 691.7L544.21 694.3L544.66 696.4L544.27 699.4L544.36 701.7L544.55 704.3L544.60 706.4L544.61 709.1L544.86 711.5L544.23 714.2L544.89 716.7L544.45 718.6L544.21 720.7L544.34 722.8L544.58 725.7L544.63 728.1L544.63 730.2L544.72 732.6L544.63 735.0L544.90 737.1L544.35 740.0L544.37 741.7M577.60 354.5V385.3M577.33 354.5L577.25 356.8L577.15 358.8L577.08 360.7L577.32 363.7L576.96 366.1L577.00 368.0L577.39 370.0L577.30 372.3L577.19 374.9L577.40 377.8L576.84 380.1L576.91 382.7L577.19 384.6L577.33 385.3M577.87 354.5L578.38 356.9L577.78 359.8L578.24 362.5L577.83 364.4L578.28 366.7L578.05 368.6L577.93 370.5L577.94 373.3L578.12 375.3L577.70 377.3L577.77 379.5L577.76 382.0L577.89 383.9L577.87 385.3M577.60 438.2V465.6M577.33 438.2L576.96 440.4L577.05 443.1L577.49 445.8L577.13 448.4L577.48 450.6L577.23 453.2L577.20 456.2L577.17 458.5L577.24 460.5L577.44 462.7L576.89 464.7L577.33 465.6M577.87 438.2L577.94 440.2L578.01 442.5L578.19 445.0L577.72 447.2L577.88 449.0L578.25 451.6L578.14 453.5L578.27 455.6L577.80 458.6L577.98 461.0L578.39 463.6L577.87 465.6M577.60 591.3V597.6M577.33 591.3L577.22 593.6L577.03 595.9L577.33 597.6M577.87 591.3L577.72 593.9L577.71 596.4L577.87 597.6M577.60 608.7V614.6M577.33 608.7L577.09 611.7L577.46 614.2L577.33 614.6M577.87 608.7L577.72 610.8L578.30 613.2L577.87 614.6M577.60 623.4V634.3M577.33 623.4L577.12 626.2L577.10 628.2L577.45 630.7L576.93 633.3L577.33 634.3M577.87 623.4L577.79 626.1L577.93 628.5L578.15 630.4L577.98 632.4L577.87 634.3M577.60 654.9V741.7M577.33 654.9L576.88 657.1L576.90 659.0L577.46 660.8L576.94 663.6L577.08 665.7L577.00 668.3L577.01 670.8L577.11 672.8L577.16 674.7L577.47 677.0L576.90 679.2L577.31 682.1L577.46 685.0L577.14 687.5L576.85 690.0L577.32 692.3L577.31 694.6L576.88 697.3L576.97 699.4L577.23 701.9L576.95 703.9L577.28 705.9L577.30 708.8L577.38 711.5L577.41 714.2L576.92 717.0L576.91 719.9L577.04 721.8L577.29 724.2L577.48 727.1L577.37 729.4L577.06 731.7L577.42 734.5L577.10 737.0L576.93 739.9L577.33 741.7M577.87 654.9L578.32 656.9L578.02 659.3L577.95 662.1L578.17 664.5L577.91 666.8L577.97 669.1L577.89 671.6L578.15 673.8L578.16 675.8L578.17 678.0L577.82 680.7L578.04 683.6L578.09 685.5L578.16 687.3L577.70 689.5L577.93 691.6L577.88 693.7L578.15 696.2L578.03 698.7L578.18 700.9L578.21 703.0L577.76 705.5L577.89 707.6L578.38 709.9L578.14 712.1L577.85 714.9L578.14 717.0L577.73 719.5L577.75 722.3L577.82 725.0L578.25 727.1L578.03 729.0L577.76 730.9L577.76 733.9L578.23 736.4L578.27 738.4L578.36 741.2L577.87 741.7" fill="none" stroke="#1C355E" stroke-width="7.8" stroke-linecap="round" stroke-linejoin="round"/>
<path d="M587.2 721.9V741.7M588.0 722.6V741.7M588.8 723.3V741.7M589.6 724.0V741.7M590.4 724.3V741.7M591.2 724.2V741.7M592.0 724.2V741.7M592.8 724.0V741.7M593.6 724.0V741.7M594.4 723.9V741.7M595.2 723.8V741.7M596.0 722.9V741.7M596.8 721.7V741.7M597.6 720.6V741.7M598.4 719.8V741.7M599.2 721.0V741.7M600.0 722.3V741.7M600.8 738.9V741.7M601.6 739.2V741.7M602.4 739.3V741.7M603.2 739.0V741.7M604.0 738.7V741.7M604.8 738.5V741.7M605.6 738.7V741.7M606.4 738.9V741.7M607.2 739.0V741.7M608.1 731.4V741.7M608.9 729.8V741.7M609.7 729.8V741.7M610.5 729.9V741.7M611.3 730.2V741.7M612.1 730.3V741.7M612.9 730.2V741.7M613.7 729.8V741.7M614.5 729.5V741.7M615.3 711.0V741.7M616.1 710.3V741.7M616.9 709.6V741.7M617.7 708.9V741.7M618.5 708.7V741.7M619.3 708.8V741.7M620.1 708.8V741.7M620.9 708.7V741.7M621.7 708.5V741.7M622.5 708.4V741.7M623.3 708.6V741.7M624.1 708.8V741.7M624.9 709.4V741.7M625.7 710.1V741.7M626.5 710.8V741.7M627.3 711.4V741.7M628.1 711.7V741.7M587.5 715.1V741.7M621.3 703.1V741.7" fill="none" stroke="#7294D4" stroke-width="7.8" stroke-linecap="round" stroke-linejoin="round"/>
<g fill="#1C355E" stroke="none"><circle cx="663.2" cy="676.8" r="3.9"/><circle cx="663.2" cy="681.8" r="3.9"/></g>
<path d="M634.2 728.7V741.7M635.0 728.8V741.7M635.8 728.9V741.7M636.6 728.9V741.7M637.4 728.9V741.7M638.2 728.9V741.7M639.0 728.8V741.7M639.8 728.8V741.7M640.6 728.3V741.7M641.4 727.6V741.7M642.2 726.9V741.7M643.0 725.9V741.7M643.8 724.9V741.7M644.5 724.0V741.7M645.3 724.4V741.7M646.1 725.4V741.7M646.9 726.5V741.7M647.7 727.5V741.7M648.5 727.9V741.7M649.3 728.2V741.7M650.1 728.1V741.7M650.9 727.9V741.7M651.7 727.8V741.7M652.5 727.9V741.7M653.3 728.0V741.7M654.1 714.1V741.7M654.9 714.0V741.7M655.7 709.4V741.7M656.5 704.1V741.7M657.3 700.8V741.7M658.1 700.9V741.7M658.9 701.0V741.7M659.7 701.2V741.7M660.5 701.8V741.7M661.3 702.3V741.7M662.1 702.6V741.7M662.9 703.0V741.7M663.6 703.3V741.7M664.4 703.6V741.7M665.2 703.6V741.7M666.0 703.6V741.7M666.8 703.8V741.7M667.6 717.8V741.7M668.4 716.9V741.7M669.2 716.0V741.7M670.0 714.9V741.7M670.8 714.2V741.7M671.6 713.5V741.7M672.4 712.9V741.7M663.20 692.7V741.7M662.93 692.7L662.86 695.6L662.60 698.5L662.88 701.1L663.04 703.8L662.87 706.4L662.56 708.8L662.42 711.5L662.41 713.5L662.93 715.7L662.54 718.0L662.96 720.5L662.86 722.4L662.64 724.5L662.58 726.9L662.74 729.6L662.69 731.7L663.04 733.8L662.74 736.2L662.87 738.5L662.74 741.1L662.93 741.7M663.47 692.7L663.99 694.7L663.99 697.2L663.55 699.4L663.63 701.6L664.00 704.0L663.50 706.2L663.66 708.5L663.44 710.4L663.94 712.5L663.79 715.0L663.32 717.7L663.76 720.5L663.80 722.8L663.83 725.4L663.48 727.6L663.63 729.7L663.68 732.0L663.36 734.2L663.42 736.7L663.52 739.6L663.47 741.7" fill="none" stroke="#1C355E" stroke-width="7.8" stroke-linecap="round" stroke-linejoin="round"/>
<g fill="#7294D4" stroke="none"><circle cx="699.0" cy="635.2" r="3.9"/><circle cx="699.0" cy="638.1" r="3.9"/><circle cx="716.3" cy="91.3" r="3.9"/><circle cx="716.3" cy="94.7" r="3.9"/><circle cx="716.3" cy="106.5" r="3.9"/><circle cx="716.3" cy="120.3" r="3.9"/><circle cx="716.3" cy="124.1" r="3.9"/><circle cx="716.3" cy="130.2" r="3.9"/><circle cx="716.3" cy="134.3" r="3.9"/><circle cx="716.3" cy="147.4" r="3.9"/><circle cx="716.3" cy="151.3" r="3.9"/><circle cx="716.3" cy="162.1" r="3.9"/><circle cx="716.3" cy="179.5" r="3.9"/><circle cx="716.3" cy="183.4" r="3.9"/><circle cx="716.3" cy="191.5" r="3.9"/><circle cx="716.3" cy="195.4" r="3.9"/><circle cx="716.3" cy="199.9" r="3.9"/><circle cx="716.3" cy="207.4" r="3.9"/><circle cx="716.3" cy="218.0" r="3.9"/><circle cx="716.3" cy="222.0" r="3.9"/><circle cx="716.3" cy="233.2" r="3.9"/></g>
<path d="M680.2 725.5V741.7M681.0 725.9V741.7M681.8 726.4V741.7M682.6 727.0V741.7M683.4 727.5V741.7M684.2 728.1V741.7M685.0 728.3V741.7M685.8 728.1V741.7M686.6 727.8V741.7M687.4 727.5V741.7M688.2 727.5V741.7M689.0 727.6V741.7M689.8 727.6V741.7M690.6 727.6V741.7M691.4 727.8V741.7M692.2 727.9V741.7M693.0 727.9V741.7M693.8 721.6V741.7M694.6 713.8V741.7M695.4 714.2V741.7M696.2 715.5V741.7M697.0 717.0V741.7M697.8 718.4V741.7M698.6 719.7V741.7M699.4 720.9V741.7M700.2 722.1V741.7M701.1 723.5V741.7M701.9 724.8V741.7M702.7 726.2V741.7M703.5 726.2V741.7M704.3 725.9V741.7M705.1 725.7V741.7M705.9 725.9V741.7M706.7 726.3V741.7M707.5 726.7V741.7M708.3 726.7V741.7M709.1 704.5V741.7M709.9 705.1V741.7M710.7 706.0V741.7M711.5 707.2V741.7M712.3 708.8V741.7M713.1 710.9V741.7M713.9 713.0V741.7M714.7 715.0V741.7M715.5 717.0V741.7M716.3 719.0V741.7M717.1 720.9V741.7M717.9 722.9V741.7M718.7 724.9V741.7M719.5 726.1V741.7M720.3 726.9V741.7M721.1 728.0V741.7M681.0 714.8V741.7M699.05 664.4V741.7M698.78 664.4L698.27 666.8L698.36 668.7L698.51 671.7L698.84 674.3L698.39 676.6L698.35 679.4L698.42 682.3L698.32 685.1L698.45 687.4L698.41 690.3L698.95 692.7L698.67 694.9L698.73 696.9L698.25 698.8L698.68 700.8L698.53 702.7L698.39 704.7L698.77 706.7L698.95 708.9L698.60 711.4L698.65 714.0L698.61 716.3L698.92 718.7L698.43 721.1L698.44 723.8L698.72 725.8L698.85 728.1L698.29 730.7L698.74 733.4L698.82 735.8L698.33 738.8L698.48 741.2L698.78 741.7M699.32 664.4L699.37 667.2L699.60 669.7L699.70 671.5L699.82 674.3L699.50 676.4L699.17 678.9L699.47 681.0L699.33 683.1L699.34 685.6L699.68 688.3L699.45 690.3L699.58 692.7L699.39 694.7L699.47 696.6L699.59 699.6L699.67 701.8L699.53 704.6L699.34 707.0L699.23 708.9L699.67 710.8L699.30 713.4L699.81 715.9L699.50 717.8L699.46 720.2L699.71 722.5L699.27 725.2L699.35 727.8L699.17 729.7L699.56 732.3L699.50 734.9L699.83 736.9L699.61 739.4L699.32 741.7M716.30 242.4V258.8M716.03 242.4L715.94 244.2L715.73 246.2L715.68 248.6L716.06 250.5L715.72 253.3L715.62 255.7L715.71 257.6L716.03 258.8M716.57 242.4L716.59 244.6L716.49 247.1L716.61 249.0L716.71 251.1L716.86 252.9L717.06 255.6L716.54 257.6L716.57 258.8M716.30 266.4V354.0M716.03 266.4L715.60 268.7L715.67 271.0L715.73 273.9L715.93 276.8L716.20 279.0L715.76 281.5L716.09 284.2L715.77 287.1L715.56 289.4L715.80 291.5L715.98 293.7L715.50 295.7L715.54 298.1L716.11 300.4L716.17 302.9L715.68 305.4L715.87 307.7L716.20 309.8L715.95 311.9L716.05 314.0L715.77 316.4L715.82 319.2L715.60 321.0L716.08 323.5L715.88 326.0L715.62 328.7L715.94 331.1L715.89 333.3L715.65 335.2L716.17 337.5L715.50 340.3L715.59 342.9L716.16 345.1L715.65 347.2L715.89 350.2L715.63 352.3L716.03 354.0M716.57 266.4L716.49 268.5L717.01 270.5L716.58 273.4L717.02 275.9L716.44 278.8L716.92 281.7L717.04 284.4L716.82 287.0L716.40 288.8L716.98 290.9L716.44 293.7L716.77 296.4L717.01 298.4L716.83 300.7L716.52 302.8L716.99 305.1L716.65 307.4L716.98 309.2L716.68 311.8L717.07 313.8L717.05 315.9L717.09 318.8L716.88 320.7L716.85 323.1L716.84 325.1L717.02 327.1L716.54 329.2L716.84 331.4L716.71 334.0L716.99 336.5L716.48 339.4L716.70 341.3L716.44 343.7L717.04 346.1L717.09 348.3L716.50 350.2L716.51 352.7L716.57 354.0M716.30 361.8V741.7M716.03 361.8L715.98 363.7L716.18 366.7L715.92 368.6L716.05 371.1L716.08 374.1L716.18 376.1L716.13 378.8L715.97 380.6L715.71 382.9L715.87 385.9L716.18 388.3L715.65 390.3L715.66 392.3L715.50 394.8L715.60 397.2L715.53 399.9L715.82 402.1L715.98 404.4L715.90 407.3L715.88 409.7L715.95 411.5L716.13 414.0L715.91 416.0L715.81 418.8L715.74 421.0L715.71 423.8L715.72 426.4L715.67 428.8L715.54 430.8L716.07 432.9L715.78 435.8L715.59 438.4L715.69 441.3L716.17 443.2L715.54 446.0L716.17 447.9L715.51 450.0L715.72 452.8L716.02 454.8L715.92 457.2L715.70 459.5L715.78 462.5L716.08 464.9L715.59 467.7L715.86 470.5L715.94 473.0L715.96 475.3L715.57 477.8L716.00 480.3L715.57 483.1L715.67 485.8L715.68 487.7L716.18 490.2L716.17 492.6L715.86 495.1L716.09 497.7L715.78 500.3L716.08 502.9L716.09 505.6L715.80 507.5L715.77 510.2L715.81 512.2L716.04 514.8L715.63 516.8L715.61 518.9L715.84 521.5L715.69 524.4L715.85 526.6L715.75 529.2L715.87 531.0L716.16 533.3L715.86 535.4L716.06 538.1L716.07 541.1L715.73 543.5L716.07 545.7L716.03 548.1L715.58 550.8L715.93 553.2L716.15 555.0L716.01 557.3L715.90 559.3L715.96 561.7L716.16 564.5L715.83 566.7L716.11 569.4L715.75 571.5L715.90 573.6L716.02 575.8L716.18 578.0L715.74 579.9L715.76 582.1L715.54 584.4L716.12 586.4L716.10 588.9L715.64 590.9L715.93 593.0L715.72 594.8L715.89 597.7L716.08 600.5L715.83 602.4L715.60 604.8L716.00 606.9L715.83 609.8L716.10 611.8L715.92 614.2L715.58 616.4L715.74 618.9L716.00 620.7L715.58 623.5L715.62 625.7L715.76 628.2L716.15 630.1L715.89 632.8L715.94 635.1L716.02 637.4L715.67 640.0L716.08 642.5L715.80 644.6L716.09 646.5L715.78 648.6L716.18 650.9L716.11 653.1L715.73 655.4L715.80 657.7L716.00 659.6L715.67 662.1L716.16 665.0L715.80 667.7L716.02 670.2L715.77 672.2L715.71 674.6L715.56 677.4L716.17 679.9L716.09 682.5L716.03 684.4L716.03 686.4L715.66 688.8L715.62 691.4L716.02 694.1L715.60 696.1L715.77 698.9L715.88 701.1L716.17 703.0L716.13 705.2L716.12 707.0L715.89 709.5L716.19 711.6L715.63 714.2L715.84 716.3L715.88 718.5L715.58 721.1L715.80 723.0L716.07 725.0L715.72 727.6L715.52 730.3L716.04 732.4L715.67 735.2L715.98 738.2L716.17 741.1L716.03 741.7M716.57 361.8L716.57 363.8L716.71 366.7L716.75 369.2L716.59 371.7L716.99 374.7L716.58 377.2L716.99 379.6L716.47 382.5L716.74 384.5L717.05 387.4L716.92 390.3L716.81 392.3L717.00 394.3L716.64 396.8L716.58 398.7L716.47 400.8L716.45 402.7L717.07 405.4L716.74 407.8L716.58 409.8L716.82 412.6L716.86 415.0L716.70 417.7L716.91 420.5L716.89 423.0L716.40 425.3L716.52 427.8L716.77 430.8L716.50 432.8L716.68 434.8L716.95 437.0L716.71 439.2L716.90 441.4L716.75 443.4L716.91 446.2L716.98 449.0L717.04 451.9L716.75 453.9L716.72 456.8L716.42 459.5L716.91 462.0L716.44 464.2L716.79 467.2L716.94 469.4L716.58 472.4L716.99 474.3L717.08 476.4L716.58 479.4L716.68 481.9L717.01 483.9L717.03 485.8L716.97 488.6L716.99 490.7L716.52 493.6L716.92 496.3L716.60 498.4L716.64 501.3L716.51 503.8L716.66 506.4L716.88 508.3L716.93 511.2L716.79 514.1L716.62 516.0L717.00 518.0L716.60 519.8L716.61 522.2L716.83 524.8L717.09 526.7L716.93 528.9L716.57 531.8L716.66 534.2L717.01 536.3L716.79 538.5L716.99 541.2L716.81 543.5L716.44 545.3L716.63 547.3L717.09 549.4L717.05 552.2L716.63 555.1L716.44 557.7L716.61 560.5L717.05 562.4L716.46 564.3L716.88 566.8L716.55 569.1L716.79 571.7L716.46 574.6L716.65 576.8L716.66 579.2L716.83 581.6L716.41 583.8L716.67 585.7L716.83 588.1L716.93 590.9L716.64 593.2L716.59 595.7L716.43 598.6L716.48 601.5L716.93 604.2L716.67 606.6L716.59 608.6L716.80 611.4L716.63 613.8L716.87 616.6L716.54 619.0L716.73 621.7L716.97 624.0L717.06 626.1L716.74 628.5L717.07 631.0L716.67 633.8L716.51 636.8L716.84 639.6L716.77 641.7L716.92 644.2L717.10 646.8L716.99 649.3L716.55 652.0L716.41 654.9L716.56 657.0L717.09 659.5L716.94 661.7L716.85 664.6L717.01 666.9L716.72 668.9L716.43 671.8L717.06 674.3L716.89 676.7L716.89 678.5L717.03 681.2L716.40 683.9L716.67 686.5L716.79 688.8L716.95 691.3L716.93 693.6L717.05 696.4L716.75 698.8L717.04 701.0L716.54 703.6L716.67 706.0L716.41 708.1L716.81 711.1L717.06 713.9L717.03 716.3L716.87 718.7L716.71 721.2L717.09 723.1L716.75 725.8L716.55 728.7L716.66 731.6L716.52 734.0L717.01 736.0L716.50 738.1L716.73 741.0L716.57 741.7" fill="none" stroke="#7294D4" stroke-width="7.8" stroke-linecap="round" stroke-linejoin="round"/>
<g fill="#1C355E" stroke="none"><circle cx="760.5" cy="607.6" r="3.9"/><circle cx="760.5" cy="610.8" r="3.9"/></g>
<path d="M725.2 734.9V741.7M726.0 733.2V741.7M726.8 731.4V741.7M727.6 729.8V741.7M728.4 728.3V741.7M729.2 726.7V741.7M730.0 725.2V741.7M730.8 724.0V741.7M731.6 722.6V741.7M732.5 721.2V741.7M733.3 720.6V741.7M734.1 720.1V741.7M734.9 719.6V741.7M735.7 720.1V741.7M736.5 720.8V741.7M737.3 721.4V741.7M738.1 721.8V741.7M738.9 721.3V741.7M739.7 720.7V741.7M740.5 720.3V741.7M741.3 720.0V741.7M742.1 720.7V741.7M742.9 721.5V741.7M743.7 722.4V741.7M744.5 723.3V741.7M745.4 724.1V741.7M746.2 724.6V741.7M747.0 725.1V741.7M747.8 725.7V741.7M748.6 726.6V741.7M749.4 727.6V741.7M750.2 728.5V741.7M751.0 729.2V741.7M751.8 729.2V741.7M752.6 729.2V741.7M753.4 729.3V741.7M754.2 729.4V741.7M755.0 729.5V741.7M755.8 729.6V741.7M756.6 729.5V741.7M757.4 729.2V741.7M758.3 728.6V741.7M759.1 727.8V741.7M759.9 727.0V741.7M760.7 726.5V741.7M761.5 726.0V741.7M762.3 725.6V741.7M763.1 724.9V741.7M763.9 724.2V741.7M764.7 723.4V741.7M760.50 553.5V564.4M760.23 553.5L759.91 556.4L759.80 559.2L759.76 561.9L760.24 564.4L760.23 564.4M760.77 553.5L761.16 555.8L760.85 557.6L761.21 559.5L761.09 561.3L761.29 563.8L760.77 564.4M760.50 572.5V585.2M760.23 572.5L760.26 575.2L760.33 578.1L760.07 580.5L759.79 582.5L760.17 584.7L760.23 585.2M760.77 572.5L760.79 574.9L760.67 576.9L761.02 579.4L761.21 582.1L760.85 584.9L760.77 585.2M760.50 621.2V646.7M760.23 621.2L759.88 623.6L759.97 626.3L760.24 628.4L760.25 631.3L760.13 633.9L760.23 636.8L759.81 639.0L760.33 642.0L760.31 644.7L760.23 646.7M760.77 621.2L761.04 623.4L761.22 625.2L760.83 627.7L761.03 630.2L761.09 632.4L760.76 635.1L761.28 636.9L760.64 639.5L760.76 642.2L760.81 644.0L760.87 646.6L760.77 646.7M760.50 658.0V741.7M760.23 658.0L760.39 660.9L759.79 663.9L760.29 666.8L760.22 668.9L759.91 671.1L759.80 673.9L760.06 676.1L760.40 678.6L760.21 681.2L760.07 683.6L760.28 685.8L760.35 688.3L760.05 690.8L760.13 692.9L760.35 695.4L760.17 697.3L759.78 699.3L760.05 702.0L759.88 704.2L759.72 706.4L760.20 709.3L760.04 711.5L759.75 713.6L760.15 716.3L760.20 719.2L760.05 721.6L760.28 724.2L759.82 726.1L759.90 728.6L760.26 730.4L759.89 732.8L760.27 735.3L760.38 738.3L760.36 741.0L760.23 741.7M760.77 658.0L760.61 660.2L761.05 663.1L760.87 665.1L760.66 667.1L761.13 669.5L761.21 672.0L760.95 674.5L760.96 677.3L760.60 679.3L761.11 681.7L761.17 684.5L760.78 686.6L760.66 689.5L761.02 691.7L760.97 694.2L760.66 696.5L761.23 698.6L760.85 701.1L760.90 704.0L760.78 706.3L760.76 708.7L760.61 711.6L760.92 714.1L760.91 716.0L760.98 718.0L761.11 720.3L760.66 722.6L761.03 725.3L760.71 728.0L761.00 730.9L761.14 733.6L760.77 736.5L760.89 738.6L761.10 741.2L760.77 741.7" fill="none" stroke="#1C355E" stroke-width="7.8" stroke-linecap="round" stroke-linejoin="round"/>
<path d="M771.9 728.0V741.7M772.7 727.3V741.7M773.5 726.7V741.7M774.3 726.1V741.7M775.1 725.8V741.7M775.9 725.7V741.7M776.7 725.5V741.7M777.5 725.3V741.7M778.3 725.1V741.7M779.0 724.8V741.7M779.8 724.4V741.7M780.6 724.9V741.7M781.4 725.3V741.7M782.2 725.7V741.7M783.0 725.8V741.7M783.8 725.9V741.7M784.6 726.0V741.7M785.4 726.6V741.7M786.2 727.5V741.7M787.0 728.3V741.7M787.8 728.5V741.7M788.6 728.6V741.7M789.4 728.8V741.7M790.2 728.6V741.7M791.0 728.0V741.7M791.8 727.5V741.7M792.6 727.0V741.7M793.4 726.5V741.7M794.1 726.0V741.7M794.9 725.9V741.7M795.7 725.9V741.7M796.5 725.9V741.7M797.3 725.9V741.7M798.1 725.7V741.7M798.9 725.5V741.7M799.7 725.5V741.7M800.5 725.8V741.7M800.5 712.4V741.7" fill="none" stroke="#7294D4" stroke-width="7.8" stroke-linecap="round" stroke-linejoin="round"/>
<path d="M803.9 729.6V741.7M804.7 728.3V741.7M805.5 727.1V741.7M806.3 725.9V741.7M807.1 724.6V741.7M807.9 723.8V741.7M808.7 723.9V741.7M809.5 724.2V741.7M810.3 724.5V741.7M811.1 724.7V741.7M811.9 724.7V741.7M812.7 724.8V741.7M813.5 724.8V741.7M814.3 724.8V741.7M815.1 724.7V741.7M816.0 724.5V741.7M816.8 724.6V741.7M817.6 724.8V741.7M818.4 725.0V741.7M819.2 725.2V741.7M820.0 725.2V741.7M820.8 725.2V741.7M821.6 725.2V741.7M822.4 725.1V741.7M823.2 724.9V741.7M824.0 724.3V741.7M824.8 723.4V741.7M825.6 722.5V741.7M826.4 721.6V741.7M827.2 720.6V741.7M828.0 719.7V741.7M814.1 708.2V741.7M827.8 718.1V741.7" fill="none" stroke="#1C355E" stroke-width="7.8" stroke-linecap="round" stroke-linejoin="round"/>
<g fill="#7294D4" stroke="none"><circle cx="845.8" cy="624.1" r="3.9"/><circle cx="845.8" cy="630.5" r="3.9"/><circle cx="845.8" cy="634.5" r="3.9"/><circle cx="845.8" cy="638.0" r="3.9"/><circle cx="845.8" cy="648.4" r="3.9"/></g>
<path d="M834.7 731.4V741.7M835.5 731.1V741.7M836.3 730.8V741.7M837.1 730.6V741.7M837.9 730.6V741.7M838.7 730.8V741.7M839.4 730.8V741.7M840.2 730.5V741.7M841.0 730.1V741.7M841.8 729.5V741.7M842.6 729.0V741.7M843.4 728.5V741.7M844.2 728.0V741.7M845.0 727.6V741.7M845.8 727.2V741.7M846.5 726.8V741.7M847.3 726.5V741.7M848.1 726.2V741.7M848.9 725.9V741.7M849.7 725.4V741.7M850.5 724.8V741.7M851.3 724.1V741.7M852.1 723.8V741.7M852.9 723.9V741.7M853.7 723.9V741.7M854.5 723.9V741.7M855.2 723.8V741.7M856.0 723.8V741.7M856.8 723.8V741.7M857.6 723.7V741.7M858.4 723.6V741.7M850.3 706.4V741.7M845.80 660.5V741.7M845.53 660.5L845.05 662.9L845.09 665.6L845.45 667.4L845.41 669.2L845.59 671.6L845.49 674.0L845.62 675.9L845.62 678.2L845.28 680.5L845.26 682.8L845.61 685.3L845.52 688.2L845.44 690.7L845.45 693.0L845.06 694.9L845.49 696.7L845.11 698.5L845.24 701.1L845.06 703.2L845.10 705.2L845.19 707.0L845.52 709.6L845.21 712.3L845.24 715.0L845.29 716.8L845.62 719.1L845.70 721.0L845.10 723.4L845.18 725.6L845.32 728.6L845.12 731.5L845.10 734.1L845.47 736.1L845.55 738.9L845.60 740.8L845.53 741.7M846.07 660.5L846.32 662.9L846.07 665.0L846.06 667.6L846.05 670.1L846.04 672.3L846.43 675.2L846.03 677.9L846.40 680.8L846.42 683.5L846.51 686.5L846.40 688.3L846.58 690.8L846.22 693.2L846.43 696.1L846.44 698.8L846.25 701.6L846.52 704.0L845.94 705.8L846.58 708.6L845.94 711.0L846.13 713.4L846.55 715.7L846.10 718.6L846.41 721.5L846.27 724.5L845.98 726.7L846.50 728.6L846.26 731.1L846.14 733.1L846.23 734.9L846.11 737.3L846.05 739.4L846.07 741.7" fill="none" stroke="#7294D4" stroke-width="7.8" stroke-linecap="round" stroke-linejoin="round"/>
<path d="M862.7 729.2V741.7M863.5 728.9V741.7M864.3 728.7V741.7M865.1 728.7V741.7M866.0 728.6V741.7M866.8 728.5V741.7M867.6 728.4V741.7M868.4 728.4V741.7M869.2 728.3V741.7M870.0 728.2V741.7M870.8 728.2V741.7M871.6 728.1V741.7M872.5 728.1V741.7M873.3 728.0V741.7M874.1 728.0V741.7M874.9 727.9V741.7M875.7 727.9V741.7M876.5 728.0V741.7M877.3 727.5V741.7M878.1 726.3V741.7M879.0 722.6V741.7M879.8 716.8V741.7M880.6 713.0V741.7M881.4 712.8V741.7M882.2 712.7V741.7M883.0 712.5V741.7M883.8 712.2V741.7M884.6 713.4V741.7M885.5 715.0V741.7M886.3 716.6V741.7M887.1 718.1V741.7M887.9 719.8V741.7M867.7 712.1V741.7M880.3 711.2V741.7M885.8 705.2V741.7" fill="none" stroke="#1C355E" stroke-width="7.8" stroke-linecap="round" stroke-linejoin="round"/>
<g fill="#7294D4" stroke="none"><circle cx="908.2" cy="708.8" r="3.9"/></g>
<path d="M894.9 725.2V741.7M895.7 722.7V741.7M896.5 720.2V741.7M897.3 719.1V741.7M898.1 721.4V741.7M899.0 723.6V741.7M899.8 724.3V741.7M900.6 725.1V741.7M901.4 726.2V741.7M902.2 727.0V741.7M903.0 726.7V741.7M903.8 726.2V741.7M904.6 725.7V741.7M905.4 724.7V741.7M906.2 723.1V741.7M907.1 721.5V741.7M907.9 719.6V741.7M908.7 719.3V741.7M909.5 720.2V741.7M910.3 721.2V741.7M911.1 721.2V741.7M911.9 720.8V741.7M912.7 720.5V741.7M913.5 720.4V741.7M914.3 719.3V741.7M915.2 718.0V741.7M916.0 716.6V741.7M916.8 717.8V741.7M917.6 719.1V741.7M918.4 720.1V741.7" fill="none" stroke="#7294D4" stroke-width="7.8" stroke-linecap="round" stroke-linejoin="round"/>
<path d="M923.9 726.3V741.7M924.7 726.2V741.7M925.5 726.2V741.7M926.3 726.2V741.7M927.1 726.2V741.7M927.9 726.3V741.7M928.7 725.9V741.7M929.5 724.0V741.7M930.3 722.2V741.7M931.1 720.4V741.7M931.9 718.5V741.7M932.7 719.4V741.7M933.5 720.3V741.7M934.3 721.5V741.7M935.0 722.8V741.7M935.8 722.2V741.7M936.6 721.5V741.7M937.4 720.7V741.7M938.2 720.5V741.7M939.0 720.4V741.7M939.8 720.1V741.7M940.6 720.2V741.7M941.4 720.4V741.7M942.2 720.5V741.7M943.0 721.3V741.7M943.8 722.4V741.7M944.6 723.8V741.7M945.4 725.3V741.7" fill="none" stroke="#1C355E" stroke-width="7.8" stroke-linecap="round" stroke-linejoin="round"/>
<g fill="#7294D4" stroke="none"><circle cx="966.6" cy="163.9" r="3.9"/><circle cx="966.6" cy="238.2" r="3.9"/><circle cx="966.6" cy="325.4" r="3.9"/><circle cx="966.6" cy="332.2" r="3.9"/><circle cx="966.6" cy="336.0" r="3.9"/><circle cx="966.6" cy="345.5" r="3.9"/><circle cx="966.6" cy="349.6" r="3.9"/><circle cx="966.6" cy="365.4" r="3.9"/><circle cx="966.6" cy="395.7" r="3.9"/><circle cx="966.6" cy="410.2" r="3.9"/><circle cx="966.6" cy="483.6" r="3.9"/><circle cx="966.6" cy="490.0" r="3.9"/><circle cx="966.6" cy="492.4" r="3.9"/><circle cx="966.6" cy="497.0" r="3.9"/><circle cx="966.6" cy="515.7" r="3.9"/><circle cx="966.6" cy="519.6" r="3.9"/><circle cx="966.6" cy="526.4" r="3.9"/><circle cx="966.6" cy="545.6" r="3.9"/><circle cx="966.6" cy="549.0" r="3.9"/><circle cx="966.6" cy="570.0" r="3.9"/><circle cx="958.5" cy="567.6" r="3.9"/><circle cx="958.5" cy="602.2" r="3.9"/></g>
<path d="M952.3 721.2V741.7M953.1 721.3V741.7M953.9 721.3V741.7M954.6 721.4V741.7M955.4 721.5V741.7M956.2 721.7V741.7M957.0 721.9V741.7M957.8 721.9V741.7M958.5 721.7V741.7M959.3 721.5V741.7M960.1 721.5V741.7M960.9 721.7V741.7M961.7 722.0V741.7M962.5 722.1V741.7M963.2 721.8V741.7M964.0 721.4V741.7M964.8 721.2V741.7M965.6 721.2V741.7M966.4 721.3V741.7M967.1 721.4V741.7M967.9 721.4V741.7M968.7 721.5V741.7M966.60 286.4V306.7M966.33 286.4L966.01 288.9L965.84 291.7L965.92 293.5L966.35 296.0L966.43 298.8L966.12 301.3L965.95 303.2L966.01 306.1L966.33 306.7M966.87 286.4L967.30 288.6L966.74 290.6L966.93 292.7L966.87 295.6L967.34 298.5L967.12 301.0L967.22 303.1L966.83 306.0L966.87 306.7M966.60 441.2V454.8M966.33 441.2L966.08 443.0L966.16 445.2L966.39 447.6L965.82 449.7L965.87 452.3L966.43 454.5L966.33 454.8M966.87 441.2L967.04 444.0L967.07 445.9L966.77 448.4L967.21 450.7L967.18 453.6L966.87 454.8M966.60 467.7V476.3M966.33 467.7L966.19 470.6L965.90 473.0L966.31 475.7L966.33 476.3M966.87 467.7L967.26 470.3L967.04 473.1L967.11 475.2L966.87 476.3M966.60 590.2V606.7M966.33 590.2L966.20 592.1L966.13 594.5L966.31 596.4L966.38 598.6L966.42 601.3L966.21 603.1L966.03 605.4L966.33 606.7M966.87 590.2L967.10 592.7L967.25 594.7L966.83 596.6L967.05 599.2L967.37 601.9L967.28 604.1L967.03 606.7L966.87 606.7M966.60 618.0V741.7M966.33 618.0L965.83 620.9L966.42 623.5L966.37 625.7L965.92 627.8L966.14 629.7L965.84 631.5L966.40 633.9L966.46 636.1L966.24 638.0L965.92 639.9L966.50 642.4L966.36 645.1L966.08 647.7L965.81 649.9L966.13 652.0L966.12 653.8L966.08 656.7L965.92 659.0L966.20 662.0L966.49 664.7L966.08 667.5L965.95 670.1L966.40 672.3L966.43 675.2L966.32 677.7L966.41 680.0L966.05 682.1L965.90 684.6L966.05 686.9L965.90 689.2L966.31 691.9L966.07 694.5L966.16 697.2L965.85 699.4L966.45 701.2L965.95 703.6L966.50 705.5L965.81 707.5L966.34 709.8L966.23 712.3L965.82 714.3L965.87 716.4L965.82 718.6L966.48 721.1L966.06 722.9L966.44 724.8L965.91 726.9L965.83 729.1L966.15 731.7L965.84 734.1L966.34 736.0L965.87 737.8L966.50 739.8L966.33 741.7M966.87 618.0L967.06 619.9L966.89 622.7L967.03 624.7L967.01 627.3L966.91 629.8L966.82 632.1L967.38 634.7L967.04 636.6L967.29 639.4L967.09 642.4L966.75 644.7L966.99 647.7L966.72 649.7L967.07 652.3L967.29 654.7L966.74 656.7L966.76 658.6L967.29 661.3L966.93 663.9L966.72 666.4L967.00 668.5L966.89 670.3L967.24 672.3L966.85 674.7L967.24 677.4L967.37 679.7L966.90 681.6L967.06 683.5L967.04 686.5L966.90 688.7L966.77 691.2L967.08 693.6L967.17 696.0L967.20 698.3L967.15 700.9L967.22 703.6L967.38 705.6L967.36 707.7L967.27 709.5L966.74 712.0L967.39 714.0L967.26 716.7L966.88 719.0L967.02 721.7L967.06 724.7L966.95 727.3L967.38 729.7L966.99 732.5L967.32 734.5L966.84 736.5L967.01 738.6L967.39 741.4L966.87 741.7M958.50 612.4V741.7M958.23 612.4L957.78 614.3L958.12 617.3L958.11 619.4L957.71 621.7L957.76 624.2L958.13 626.2L958.20 628.2L957.93 630.2L958.28 633.1L958.22 635.1L957.87 638.0L958.02 640.6L957.91 643.3L958.40 645.5L957.95 647.4L958.08 649.8L957.92 652.4L957.70 654.9L958.39 657.8L957.82 660.5L958.27 663.0L958.12 664.9L958.38 667.7L957.89 670.4L958.21 672.4L958.03 674.6L957.99 676.4L958.34 678.4L958.15 680.6L958.29 683.4L958.24 685.3L957.90 687.5L957.85 690.0L958.05 692.0L958.07 694.2L958.40 697.2L958.30 699.1L958.08 701.6L957.95 704.3L957.98 706.4L958.25 709.4L958.02 711.3L958.17 714.1L958.12 716.1L958.30 718.1L958.17 720.1L957.72 722.0L958.01 724.9L958.11 727.2L958.30 729.8L958.07 731.8L958.29 734.3L957.73 737.1L958.13 740.0L958.23 741.7M958.77 612.4L959.16 614.4L959.22 616.3L958.80 618.7L958.76 621.1L958.70 623.6L958.97 626.0L958.67 628.8L958.74 630.7L958.76 633.3L958.94 636.2L958.94 638.4L958.60 641.3L958.76 644.3L959.03 646.1L958.91 648.4L958.65 650.7L959.11 653.2L958.70 655.0L958.86 657.3L959.24 659.8L959.17 661.8L958.61 663.8L958.94 665.7L958.85 668.6L958.91 670.5L958.67 672.6L958.97 675.2L958.86 677.8L958.84 679.9L959.09 682.2L959.16 684.8L959.10 687.4L959.26 689.6L958.74 691.5L958.76 694.5L958.62 696.7L958.86 699.2L959.10 701.2L959.26 703.1L958.70 705.2L958.67 708.0L958.83 710.1L958.88 712.5L958.90 715.5L958.74 717.3L959.02 720.0L958.95 722.1L959.08 724.9L959.07 727.7L958.96 730.1L959.04 732.4L959.27 734.3L958.75 736.7L958.72 739.6L958.77 741.7M962.60 640.0V680.0M962.33 640.0L962.30 642.1L962.16 644.7L961.85 647.5L961.99 650.4L962.05 652.6L962.35 655.1L962.48 658.0L962.19 660.8L961.80 662.8L962.35 665.1L962.27 667.5L962.10 670.0L962.42 672.9L962.33 675.1L961.92 677.5L962.07 679.7L962.33 680.0M962.87 640.0L962.91 642.0L962.90 644.7L963.15 646.6L963.14 649.4L962.80 651.8L963.18 654.1L962.80 657.0L962.72 659.0L963.36 661.9L962.97 664.7L963.39 667.5L963.09 669.9L962.95 672.6L963.09 674.6L963.27 676.7L963.16 679.6L962.87 680.0M962.60 696.0V741.7M962.33 696.0L962.17 698.9L962.11 701.4L962.05 703.4L961.83 705.8L962.10 708.2L962.16 711.0L962.20 713.6L961.94 715.8L962.39 717.9L962.16 720.1L961.86 722.9L961.90 724.9L961.89 727.3L961.85 729.2L962.22 731.3L962.01 734.1L962.35 737.0L961.95 739.8L962.33 741.7M962.87 696.0L963.33 698.8L963.01 701.5L962.94 704.5L962.75 707.3L962.90 709.2L962.99 711.1L963.20 713.9L963.34 716.2L962.82 718.3L963.37 720.6L962.99 723.5L962.98 726.2L962.79 728.3L963.38 730.7L963.39 733.4L963.16 735.3L962.84 738.3L963.21 741.2L962.87 741.7M956.40 673.6V687.0M956.13 673.6L955.70 675.9L956.25 678.4L955.80 681.0L955.73 683.7L955.62 686.0L956.13 687.0M956.67 673.6L956.50 676.3L956.51 678.7L956.67 681.4L956.69 684.3L956.98 686.8L956.67 687.0M956.40 695.5V741.7M956.13 695.5L955.91 697.4L955.66 699.9L956.29 702.6L955.79 704.9L956.04 707.1L956.19 709.6L955.73 712.4L956.25 714.5L956.01 717.3L956.30 719.7L956.22 722.2L955.91 724.6L955.93 727.0L955.63 729.2L955.99 732.1L955.72 734.2L955.67 736.6L956.16 738.8L956.20 740.8L956.13 741.7M956.67 695.5L956.97 698.1L956.59 700.7L956.52 702.8L956.59 705.0L957.01 707.0L957.01 710.0L956.63 712.6L956.86 714.6L956.78 717.6L957.13 720.4L956.79 722.8L956.61 725.1L956.79 727.5L956.88 729.7L956.97 732.4L956.77 734.8L956.80 737.6L956.94 739.8L956.67 741.7" fill="none" stroke="#7294D4" stroke-width="7.8" stroke-linecap="round" stroke-linejoin="round"/>
<g fill="#1C355E" stroke="none"><circle cx="988.6" cy="658.8" r="3.9"/><circle cx="988.6" cy="664.4" r="3.9"/><circle cx="988.6" cy="672.6" r="3.9"/><circle cx="988.6" cy="675.4" r="3.9"/><circle cx="988.6" cy="702.9" r="3.9"/><circle cx="988.6" cy="713.8" r="3.9"/></g>
<path d="M973.7 724.7V741.7M974.5 725.4V741.7M975.3 726.3V741.7M976.1 727.3V741.7M976.9 728.1V741.7M977.7 729.0V741.7M978.5 729.3V741.7M979.3 729.3V741.7M980.1 729.0V741.7M980.9 728.9V741.7M981.7 728.8V741.7M982.5 728.7V741.7M983.3 728.5V741.7M984.1 728.4V741.7M984.9 727.3V741.7M985.7 726.3V741.7M986.5 726.0V741.7M987.3 726.1V741.7M988.1 726.1V741.7M988.9 726.2V741.7M989.7 726.3V741.7M990.5 726.4V741.7M991.3 726.4V741.7M988.60 685.9V694.7M988.33 685.9L988.38 688.3L987.94 690.8L988.04 693.1L988.33 694.7M988.87 685.9L988.81 688.7L989.39 690.6L989.07 693.3L988.87 694.7M988.60 718.0V741.7M988.33 718.0L988.06 720.9L988.10 722.8L988.31 725.0L988.10 727.3L988.05 729.8L988.44 732.7L988.31 734.9L988.07 737.5L988.24 739.7L988.33 741.7M988.87 718.0L989.29 720.9L989.40 722.7L988.88 724.5L989.37 727.2L989.22 729.4L989.21 732.3L989.37 734.3L989.06 736.9L988.85 738.8L989.19 741.2L988.87 741.7" fill="none" stroke="#1C355E" stroke-width="7.8" stroke-linecap="round" stroke-linejoin="round"/>
<path d="M997.9 728.3V741.7M998.7 728.2V741.7M999.5 727.9V741.7M1000.3 727.7V741.7M1001.1 727.8V741.7M1001.8 728.1V741.7M1002.6 727.3V741.7M1003.4 725.9V741.7M1004.2 724.3V741.7M1005.0 723.5V741.7" fill="none" stroke="#7294D4" stroke-width="7.8" stroke-linecap="round" stroke-linejoin="round"/>
<g fill="#1C355E" stroke="none"><circle cx="1021.1" cy="693.2" r="3.9"/></g>
<path d="M1011.2 731.1V741.7M1012.0 729.4V741.7M1012.8 727.7V741.7M1013.6 726.2V741.7M1014.4 725.0V741.7M1015.2 724.0V741.7M1016.0 723.0V741.7M1016.8 721.6V741.7M1017.7 719.9V741.7M1018.5 718.2V741.7M1019.3 716.9V741.7M1020.1 715.9V741.7M1020.9 716.5V741.7M1021.7 719.7V741.7M1022.5 726.0V741.7M1023.3 732.8V741.7M1024.1 737.6V741.7M1024.9 740.1V741.7M1025.7 741.6V741.7M1026.5 741.6V741.7M1027.3 741.5V741.7M1028.1 741.5V741.7M1029.0 741.5V741.7M1029.8 741.6V741.7M1030.6 741.7V741.7M1031.4 741.7V741.7M1032.2 741.7V741.7M1033.0 741.4V741.7M1033.8 741.3V741.7M1034.6 741.4V741.7" fill="none" stroke="#1C355E" stroke-width="7.8" stroke-linecap="round" stroke-linejoin="round"/>
<line x1="63.8" x2="1043.8" y1="718.3" y2="718.3" stroke="#ff0000" stroke-width="2.5" stroke-dasharray="8.08 8.08"/>
<line x1="63.8" x2="1043.8" y1="725.6" y2="725.6" stroke="#8c8c8c" stroke-width="2.2" stroke-dasharray="8.08 8.08"/>
<rect x="64.4" y="20.5" width="979.4" height="727.7" fill="none" stroke="#555555" stroke-width="1.3"/>
<line x1="58.6" x2="64.4" y1="741.6" y2="741.6" stroke="#2b2b2b" stroke-width="1.7"/><text x="54.5" y="747.4" text-anchor="end" class="tk">0</text><line x1="58.6" x2="64.4" y1="579.2" y2="579.2" stroke="#2b2b2b" stroke-width="1.7"/><text x="54.5" y="585.0" text-anchor="end" class="tk">50</text><line x1="58.6" x2="64.4" y1="416.8" y2="416.8" stroke="#2b2b2b" stroke-width="1.7"/><text x="54.5" y="422.6" text-anchor="end" class="tk">100</text><line x1="58.6" x2="64.4" y1="254.4" y2="254.4" stroke="#2b2b2b" stroke-width="1.7"/><text x="54.5" y="260.2" text-anchor="end" class="tk">150</text><line x1="58.6" x2="64.4" y1="92.0" y2="92.0" stroke="#2b2b2b" stroke-width="1.7"/><text x="54.5" y="97.8" text-anchor="end" class="tk">200</text><line x1="115.7" x2="115.7" y1="748.2" y2="753.9" stroke="#2b2b2b" stroke-width="1.7"/><text x="117.9" y="769.9" text-anchor="middle" class="tk">1</text><line x1="196.4" x2="196.4" y1="748.2" y2="753.9" stroke="#2b2b2b" stroke-width="1.7"/><text x="198.6" y="769.9" text-anchor="middle" class="tk">2</text><line x1="269.4" x2="269.4" y1="748.2" y2="753.9" stroke="#2b2b2b" stroke-width="1.7"/><text x="271.6" y="769.9" text-anchor="middle" class="tk">3</text><line x1="333.6" x2="333.6" y1="748.2" y2="753.9" stroke="#2b2b2b" stroke-width="1.7"/><text x="335.8" y="769.9" text-anchor="middle" class="tk">4</text><line x1="395.5" x2="395.5" y1="748.2" y2="753.9" stroke="#2b2b2b" stroke-width="1.7"/><text x="397.7" y="769.9" text-anchor="middle" class="tk">5</text><line x1="454.3" x2="454.3" y1="748.2" y2="753.9" stroke="#2b2b2b" stroke-width="1.7"/><text x="456.5" y="769.9" text-anchor="middle" class="tk">6</text><line x1="510.0" x2="510.0" y1="748.2" y2="753.9" stroke="#2b2b2b" stroke-width="1.7"/><text x="512.2" y="769.9" text-anchor="middle" class="tk">7</text><line x1="561.4" x2="561.4" y1="748.2" y2="753.9" stroke="#2b2b2b" stroke-width="1.7"/><text x="563.6" y="769.9" text-anchor="middle" class="tk">8</text><line x1="609.6" x2="609.6" y1="748.2" y2="753.9" stroke="#2b2b2b" stroke-width="1.7"/><text x="611.8" y="769.9" text-anchor="middle" class="tk">9</text><line x1="655.2" x2="655.2" y1="748.2" y2="753.9" stroke="#2b2b2b" stroke-width="1.7"/><text x="657.4" y="769.9" text-anchor="middle" class="tk">10</text><line x1="700.8" x2="700.8" y1="748.2" y2="753.9" stroke="#2b2b2b" stroke-width="1.7"/><text x="703.0" y="769.9" text-anchor="middle" class="tk">11</text><line x1="746.5" x2="746.5" y1="748.2" y2="753.9" stroke="#2b2b2b" stroke-width="1.7"/><text x="748.7" y="769.9" text-anchor="middle" class="tk">12</text><line x1="785.7" x2="785.7" y1="748.2" y2="753.9" stroke="#2b2b2b" stroke-width="1.7"/><text x="787.9" y="769.9" text-anchor="middle" class="tk">13</text><line x1="818.5" x2="818.5" y1="748.2" y2="753.9" stroke="#2b2b2b" stroke-width="1.7"/><text x="820.7" y="769.9" text-anchor="middle" class="tk">14</text><line x1="847.2" x2="847.2" y1="748.2" y2="753.9" stroke="#2b2b2b" stroke-width="1.7"/><text x="849.4" y="769.9" text-anchor="middle" class="tk">15</text><line x1="876.9" x2="876.9" y1="748.2" y2="753.9" stroke="#2b2b2b" stroke-width="1.7"/><text x="879.1" y="769.9" text-anchor="middle" class="tk">16</text><line x1="907.6" x2="907.6" y1="748.2" y2="753.9" stroke="#2b2b2b" stroke-width="1.7"/><text x="909.8" y="769.9" text-anchor="middle" class="tk">17</text><line x1="936.3" x2="936.3" y1="748.2" y2="753.9" stroke="#2b2b2b" stroke-width="1.7"/><text x="938.5" y="769.9" text-anchor="middle" class="tk">18</text><line x1="961.7" x2="961.7" y1="748.2" y2="753.9" stroke="#2b2b2b" stroke-width="1.7"/><text x="963.9" y="769.9" text-anchor="middle" class="tk">19</text><line x1="983.9" x2="983.9" y1="748.2" y2="753.9" stroke="#2b2b2b" stroke-width="1.7"/><text x="986.1" y="769.9" text-anchor="middle" class="tk">20</text><line x1="1002.5" x2="1002.5" y1="748.2" y2="753.9" stroke="#2b2b2b" stroke-width="1.7"/><text x="1004.7" y="769.9" text-anchor="middle" class="tk">21</text><line x1="1022.4" x2="1022.4" y1="748.2" y2="753.9" stroke="#2b2b2b" stroke-width="1.7"/><text x="1024.6" y="769.9" text-anchor="middle" class="tk">22</text>
<text x="554.1" y="793.0" text-anchor="middle" class="ti">Chromosome</text>
<g transform="translate(13.3 423.7) rotate(-90)"><text x="0" y="0" class="ti" style="font-size:20.3px">-log</text><text x="34.6" y="4.2" class="ti" style="font-size:14.5px">10</text><text x="51.5" y="0" class="ti" style="font-size:20.3px">(</text><text x="58.6" y="0" class="ti" style="font-size:20.3px;font-style:italic">p</text><text x="72.0" y="0" class="ti" style="font-size:20.3px">)</text></g>
</svg>
</body></html>
